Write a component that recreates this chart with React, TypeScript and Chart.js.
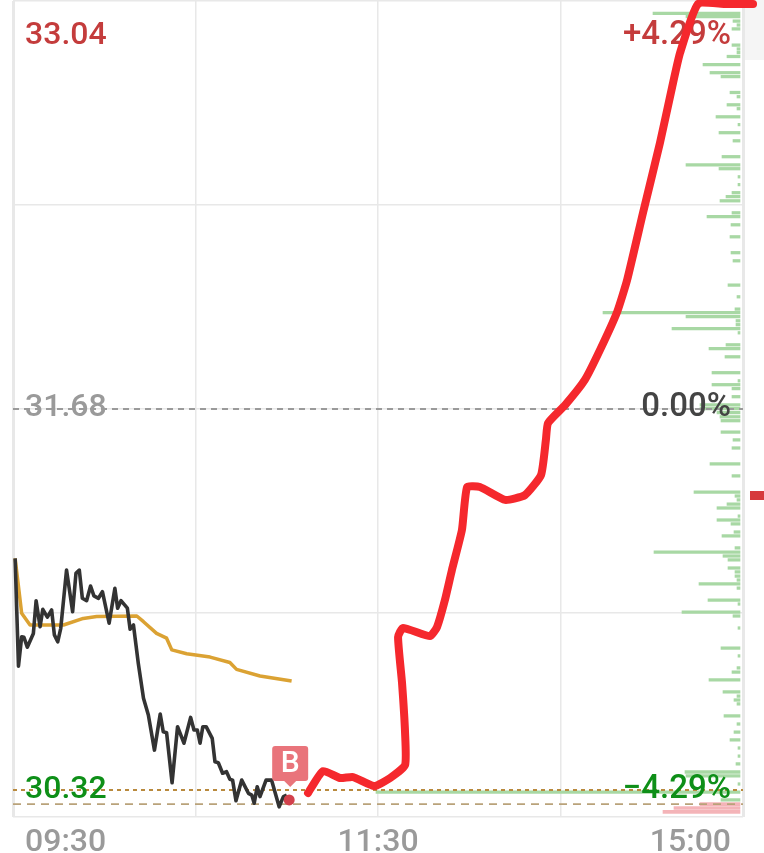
import React, { useEffect, useRef } from "react";
import { Chart, registerables } from "chart.js";

Chart.register(...registerables);

const blackMinutes = [0.7,1.8,2.85,3.6,4.7,6.7,7.6,8.9,9.8,10.9,11.3,12.7,13.6,14.7,15.7,17.6,19.6,20.7,21.8,22.8,24.2,25.5,26.6,28.1,29.4,31.6,33.5,34.4,35.5,37.6,38.5,39.6,41.2,42.9,44.5,46.5,48.4,49.4,50.5,52.3,54.1,56.2,58.4,59.5,60.6,61.5,62.4,63.5,65.5,66.4,67.5,68.9,70.2,71.3,72.2,73.3,75.2,77.4,78.5,79.3,80.3,81.2,83.2,85.0,87.5,88.9,90.0];
const blackPrices = [31.182,30.823,30.921,30.919,30.886,30.932,31.041,30.954,31.012,30.993,30.986,31.010,30.927,30.904,30.949,31.143,31.004,31.132,31.143,31.049,31.041,31.090,31.057,31.049,31.071,30.966,31.082,31.016,31.041,31.016,30.946,30.960,30.832,30.716,30.660,30.543,30.663,30.604,30.601,30.434,30.621,30.566,30.652,30.610,30.610,30.566,30.621,30.621,30.582,30.504,30.501,30.466,30.471,30.446,30.443,30.374,30.443,30.399,30.393,30.366,30.421,30.388,30.443,30.443,30.354,30.388,30.393];

const avgMinutes = [0.7,2.85,5.6,16.6,23.1,27.5,40.7,42.9,47.2,50.5,52.2,57.1,64.8,71.3,73.5,81.2,91.6];
const avgPrices = [31.182,30.999,30.960,30.960,30.982,30.988,30.990,30.971,30.932,30.916,30.877,30.864,30.853,30.835,30.812,30.790,30.773];

const redMinutes = [97.0,101.9,107.5,111.8,118.7,124,128.9,128.9,127.9,126.6,128.2,137.1,139.4,142,144.3,147.6,149.3,153.5,161.8,168.3,173.6,175.2,175.9,181.5,188,193,198.6,201.9,207.1,212.7,216.7,219.3,225.2,234,243.3];
const redPrices = [30.40,30.473,30.45,30.453,30.423,30.45,30.493,30.60,30.767,30.92,30.95,30.923,30.953,31.043,31.143,31.277,31.42,31.42,31.377,31.393,31.46,31.577,31.633,31.693,31.777,31.877,32.003,32.11,32.333,32.567,32.753,32.867,33.03,33.03,33.03];

const upVolPrices = [32.999,32.988,32.973,32.96,32.947,32.893,32.88,32.868,32.855,32.828,32.801,32.788,32.735,32.721,32.694,32.681,32.654,32.628,32.601,32.574,32.521,32.494,32.481,32.454,32.428,32.401,32.388,32.374,32.334,32.321,32.294,32.254,32.201,32.174,32.093,32.054,32.013,32.001,31.988,31.974,31.961,31.948,31.934,31.894,31.881,31.854,31.801,31.774,31.761,31.748,31.721,31.694,31.681,31.668,31.654,31.641,31.603,31.577,31.55,31.497,31.457,31.403,31.39,31.377,31.363,31.35,31.323,31.31,31.297,31.27,31.257,31.217,31.203,31.19,31.177,31.15,31.137,31.123,31.11,31.097,31.083,31.043,31.03,31.003,30.99,30.95,30.883,30.857,30.817,30.803,30.777,30.737,30.723,30.71,30.697,30.657,30.63,30.603,30.577,30.55,30.523,30.497,30.47,30.457,30.43,30.403,30.377];
const upVolSizes = [87,54,7,3,8,8,3,3,13,37,30,19,10,3,13,3,24,2,21,7,18,54,21,2,2,8,14,20,8,33,9,10,9,7,12,3,5,137,54,4,4,68,2,14,31,15,28,2,28,8,8,40,40,23,20,19,19,7,8,30,8,46,5,3,13,23,2,23,9,6,18,5,86,17,12,12,5,5,3,41,3,32,2,58,7,2,19,2,3,8,31,17,3,6,3,16,3,6,10,2,2,4,55,54,2,364,19];

const downVolPrices = [30.363,30.35,30.337];
const downVolSizes = [40,66,77];

const timeGrid = [0,60,120,180,240];
const priceGrid = [30.32,31,31.68,32.36,33.04];
const previousClose = 31.68;
const upperDash = 30.41;
const lowerDash = 30.363;
const buyMinute = [90.8];
const buyPrice = [30.377];

const leftLabels = ["33.04","31.68","30.32"];
const rightLabels = ["+4.29%","0.00%","−4.29%"];
const timeLabels = ["09:30","11:30","15:00"];

const pts = (xs: number[], ys: number[]) => xs.map((x, i) => ({ x, y: ys[i] }));

const overlay = {
  id: "overlay",
  beforeDraw(chart: any) {
    const { ctx, width } = chart;
    ctx.save();
    ctx.fillStyle = "#f5f5f5";
    ctx.fillRect(745, 0, width - 745, 60);
    ctx.fillStyle = "#d63a3c";
    ctx.fillRect(750, 491, width - 750, 9);
    ctx.restore();
  },
  afterDatasetDraw(chart: any, args: any) {
    if (chart.data.datasets[args.index].label !== "lower") return;
    const { ctx, chartArea } = chart;
    const y = chart.scales.y;
    const colors = ["#c43c3c", "#9a9a9a", "#0e8f18"];
    const rightColors = ["#c43c3c", "#444444", "#0e8f18"];
    const centers = [y.getPixelForValue(33.04) + 35, y.getPixelForValue(31.68) - 1, y.getPixelForValue(30.32) - 27];
    ctx.save();
    ctx.textBaseline = "middle";
    leftLabels.forEach((t, i) => {
      ctx.font = "500 32px Roboto, sans-serif";
      ctx.fillStyle = colors[i];
      ctx.textAlign = "left";
      ctx.fillText(t, 25, centers[i]);
      ctx.font = "500 33px Roboto, sans-serif";
      ctx.fillStyle = rightColors[i];
      ctx.textAlign = "right";
      ctx.fillText(rightLabels[i], 731, centers[i]);
    });
    ctx.font = "500 32px Roboto, sans-serif";
    ctx.fillStyle = "#9a9a9a";
    const by = chartArea.bottom + 26;
    ctx.textAlign = "left";
    ctx.fillText(timeLabels[0], 25, by);
    ctx.textAlign = "center";
    ctx.fillText(timeLabels[1], 378, by);
    ctx.textAlign = "right";
    ctx.fillText(timeLabels[2], 731, by);
    ctx.restore();
  },
  afterDatasetsDraw(chart: any) {
    const { ctx } = chart;
    const px = chart.scales.x.getPixelForValue(buyMinute[0]);
    const py = chart.scales.y.getPixelForValue(buyPrice[0]);
    const cx = px + 1;
    const top = py - 54;
    ctx.save();
    ctx.fillStyle = "#e9747b";
    ctx.beginPath();
    ctx.roundRect(cx - 18, top, 36, 35, 3);
    ctx.fill();
    ctx.beginPath();
    ctx.moveTo(cx - 6, top + 35);
    ctx.lineTo(cx, top + 41);
    ctx.lineTo(cx + 6, top + 35);
    ctx.fill();
    ctx.fillStyle = "#ffffff";
    ctx.font = "500 30px Roboto, sans-serif";
    ctx.textAlign = "center";
    ctx.textBaseline = "middle";
    ctx.fillText("B", cx, top + 19);
    ctx.restore();
  },
};

export default function App() {
  const ref = useRef<HTMLCanvasElement>(null);
  useEffect(() => {
    document.body.style.margin = "0";
    document.body.style.background = "#ffffff";
    const chart = new Chart(ref.current as HTMLCanvasElement, {
      type: "line",
      plugins: [overlay],
      data: {
        datasets: [
          {
            type: "bar", label: "up", indexAxis: "y", order: 9, xAxisID: "vol", yAxisID: "y", grouped: false,
            data: pts(upVolSizes, upVolPrices), backgroundColor: "#a8d8a4", barThickness: 2.6, borderWidth: 0,
          },
          {
            type: "bar", label: "down", indexAxis: "y", order: 9, xAxisID: "vol", yAxisID: "y", grouped: false,
            data: pts(downVolSizes, downVolPrices), backgroundColor: "#f4b4b8", barThickness: 3, borderWidth: 0,
          },
          {
            label: "close", order: 7, xAxisID: "x", yAxisID: "y",
            data: pts([0, 240], [previousClose, previousClose]),
            borderColor: "#9a9a9a", borderWidth: 2, borderDash: [6, 5], pointRadius: 0,
          },
          {
            label: "upper", order: 7, xAxisID: "x", yAxisID: "y",
            data: pts([0, 240], [upperDash, upperDash]),
            borderColor: "#b98a3e", borderWidth: 1.8, borderDash: [4, 4], pointRadius: 0,
          },
          {
            label: "lower", order: 6, xAxisID: "x", yAxisID: "y",
            data: pts([0, 240], [lowerDash, lowerDash]),
            borderColor: "#b9a27a", borderWidth: 1.8, borderDash: [8, 6], pointRadius: 0,
          },
          {
            label: "average", order: 4, xAxisID: "x", yAxisID: "y",
            data: pts(avgMinutes, avgPrices),
            borderColor: "#dba233", borderWidth: 3.5, pointRadius: 0, borderJoinStyle: "round",
          },
          {
            label: "price", order: 3, xAxisID: "x", yAxisID: "y",
            data: pts(blackMinutes, blackPrices),
            borderColor: "#333333", borderWidth: 3.6, pointRadius: 0, borderJoinStyle: "round",
          },
          {
            label: "buy", order: 2, xAxisID: "x", yAxisID: "y", showLine: false,
            data: pts(buyMinute, buyPrice),
            pointRadius: 5.5, pointBackgroundColor: "#d2414c", pointBorderWidth: 0,
          },
          {
            label: "drawn", order: 1, xAxisID: "x", yAxisID: "y", clip: false, tension: 0.16,
            data: pts(redMinutes, redPrices),
            borderColor: "#f5282d", borderWidth: 8, pointRadius: 0,
            borderJoinStyle: "round", borderCapStyle: "round",
          },
        ] as any,
      },
      options: {
        responsive: false,
        animation: false,
        events: [],
        layout: { autoPadding: false, padding: { left: 13, right: 21, top: 1, bottom: 36 } },
        plugins: { legend: { display: false }, tooltip: { enabled: false } },
        scales: {
          x: {
            type: "linear", min: 0, max: 240, offset: false,
            afterBuildTicks: (s: any) => { s.ticks = timeGrid.map((value) => ({ value })); },
            ticks: { display: false },
            grid: {
              color: "#e8e8e8", drawTicks: false, offset: false,
              lineWidth: (c: any) => (c.tick && (c.tick.value === 240 || c.tick.value === 0) ? 3 : 1.5),
            },
            border: { display: false },
          },
          vol: {
            type: "linear", display: false, reverse: true, min: -3, max: 727, offset: false,
          },
          y: {
            type: "linear", min: 30.32, max: 33.04, offset: false,
            afterBuildTicks: (s: any) => { s.ticks = priceGrid.map((value) => ({ value })); },
            ticks: { display: false },
            grid: { color: "#e8e8e8", lineWidth: 1.5, drawTicks: false, offset: false },
            border: { display: false },
          },
        },
      } as any,
    });
    return () => chart.destroy();
  }, []);
  return <canvas ref={ref} width={764} height={853} style={{ display: "block" }} />;
}
